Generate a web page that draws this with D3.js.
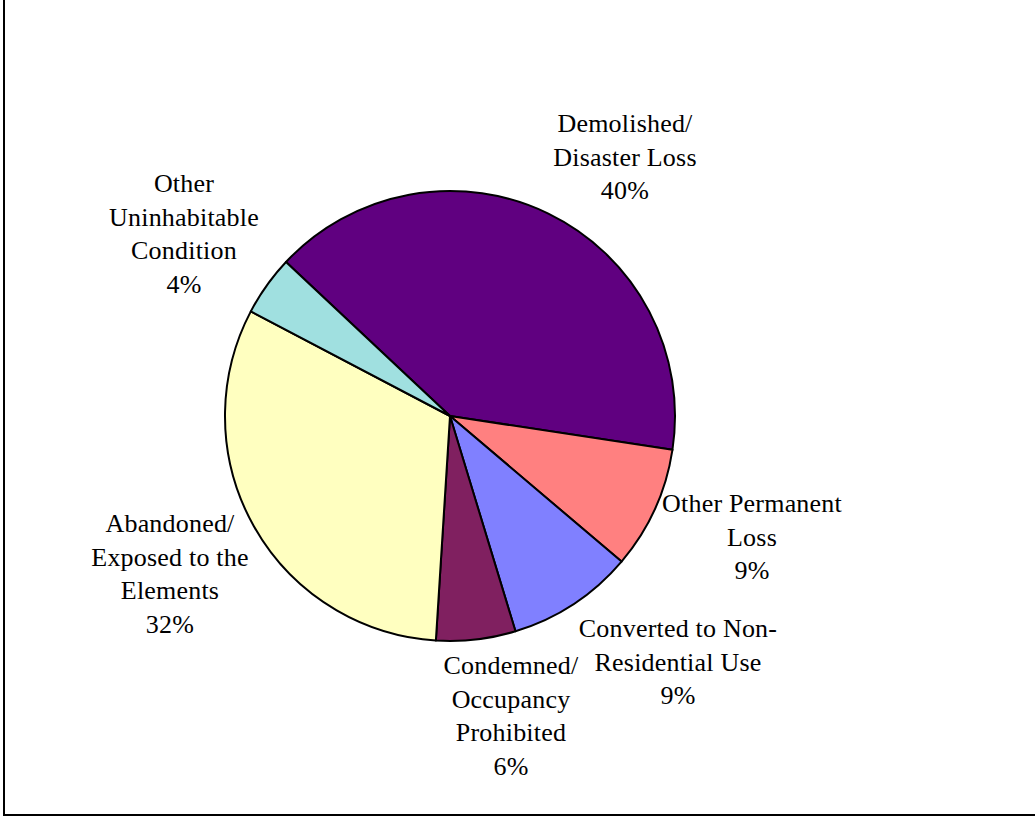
<!DOCTYPE html>
<html>
<head>
<meta charset="utf-8">
<script src="https://cdn.jsdelivr.net/npm/d3@7"></script>
<style>
  body { margin: 0; background: #fff; }
  svg text { font-family: "Liberation Serif", "Times New Roman", serif; font-size: 26px; letter-spacing: 0.2px; fill: #000; }
</style>
</head>
<body>
<div id="canvas"></div>
<script>
// data
const categories = [
    'Demolished/ Disaster Loss',
    'Other Permanent Loss',
    'Converted to Non-Residential Use',
    'Condemned/ Occupancy Prohibited',
    'Abandoned/ Exposed to the Elements',
    'Other Uninhabitable Condition'
];
const values = [40.4, 8.8, 9.1, 5.7, 31.7, 4.3];
const percentLabels = ['40%', '9%', '9%', '6%', '32%', '4%'];
const labelLines = [
    ['Demolished/', 'Disaster Loss'],
    ['Other Permanent', 'Loss'],
    ['Converted to Non-', 'Residential Use'],
    ['Condemned/', 'Occupancy', 'Prohibited'],
    ['Abandoned/', 'Exposed to the', 'Elements'],
    ['Other', 'Uninhabitable', 'Condition']
];
const colors = ['#600080', '#ff8080', '#8080ff', '#802060', '#ffffc0', '#a0e0e0'];

// layout
const width = 1035;
const height = 817;
const originX = 450;
const originY = 416;
const radius = 225;
const lineGap = 33.5;
// label centre x and first baseline y, in page pixels
const labelPos = [[625, 132], [752, 512], [678, 637], [511, 674], [170, 532], [184, 192]];
const startDeg = -46.8;

const svg = d3.select('#canvas')
    .append('svg').attr('width', width).attr('height', height);

// frame (top and right edges sit outside the page)
svg.append('rect')
    .attr('x', 4).attr('y', -10)
    .attr('width', width + 20).attr('height', 825)
    .attr('fill', 'none')
    .attr('stroke', '#000')
    .attr('stroke-width', 2);

const color = d3.scaleOrdinal().domain(categories).range(colors);

const pie = d3.pie()
    .sort(null)
    .value(d => d.value)
    .startAngle(startDeg * Math.PI / 180)
    .endAngle(startDeg * Math.PI / 180 + Math.PI * 2);

const arc = d3.arc().innerRadius(0).outerRadius(radius);

const rows = categories.map((c, i) => ({ name: c, value: values[i], i: i }));

svg.append('g')
    .attr('transform', `translate(${originX},${originY})`)
    .selectAll('path')
    .data(pie(rows))
    .join('path')
    .attr('d', arc)
    .attr('fill', d => color(d.data.name))
    .attr('stroke', '#000')
    .attr('stroke-width', 2)
    .attr('stroke-linejoin', 'round');

// labels
const labels = svg.append('g')
    .selectAll('text')
    .data(rows)
    .join('text')
    .attr('text-anchor', 'middle')
    .attr('x', d => labelPos[d.i][0])
    .attr('y', d => labelPos[d.i][1]);

labels.each(function (d) {
    const t = d3.select(this);
    const lines = labelLines[d.i].concat([percentLabels[d.i]]);
    lines.forEach((l, k) => {
        t.append('tspan')
            .attr('x', labelPos[d.i][0])
            .attr('dy', k === 0 ? 0 : lineGap)
            .text(l);
    });
});
</script>
</body>
</html>
